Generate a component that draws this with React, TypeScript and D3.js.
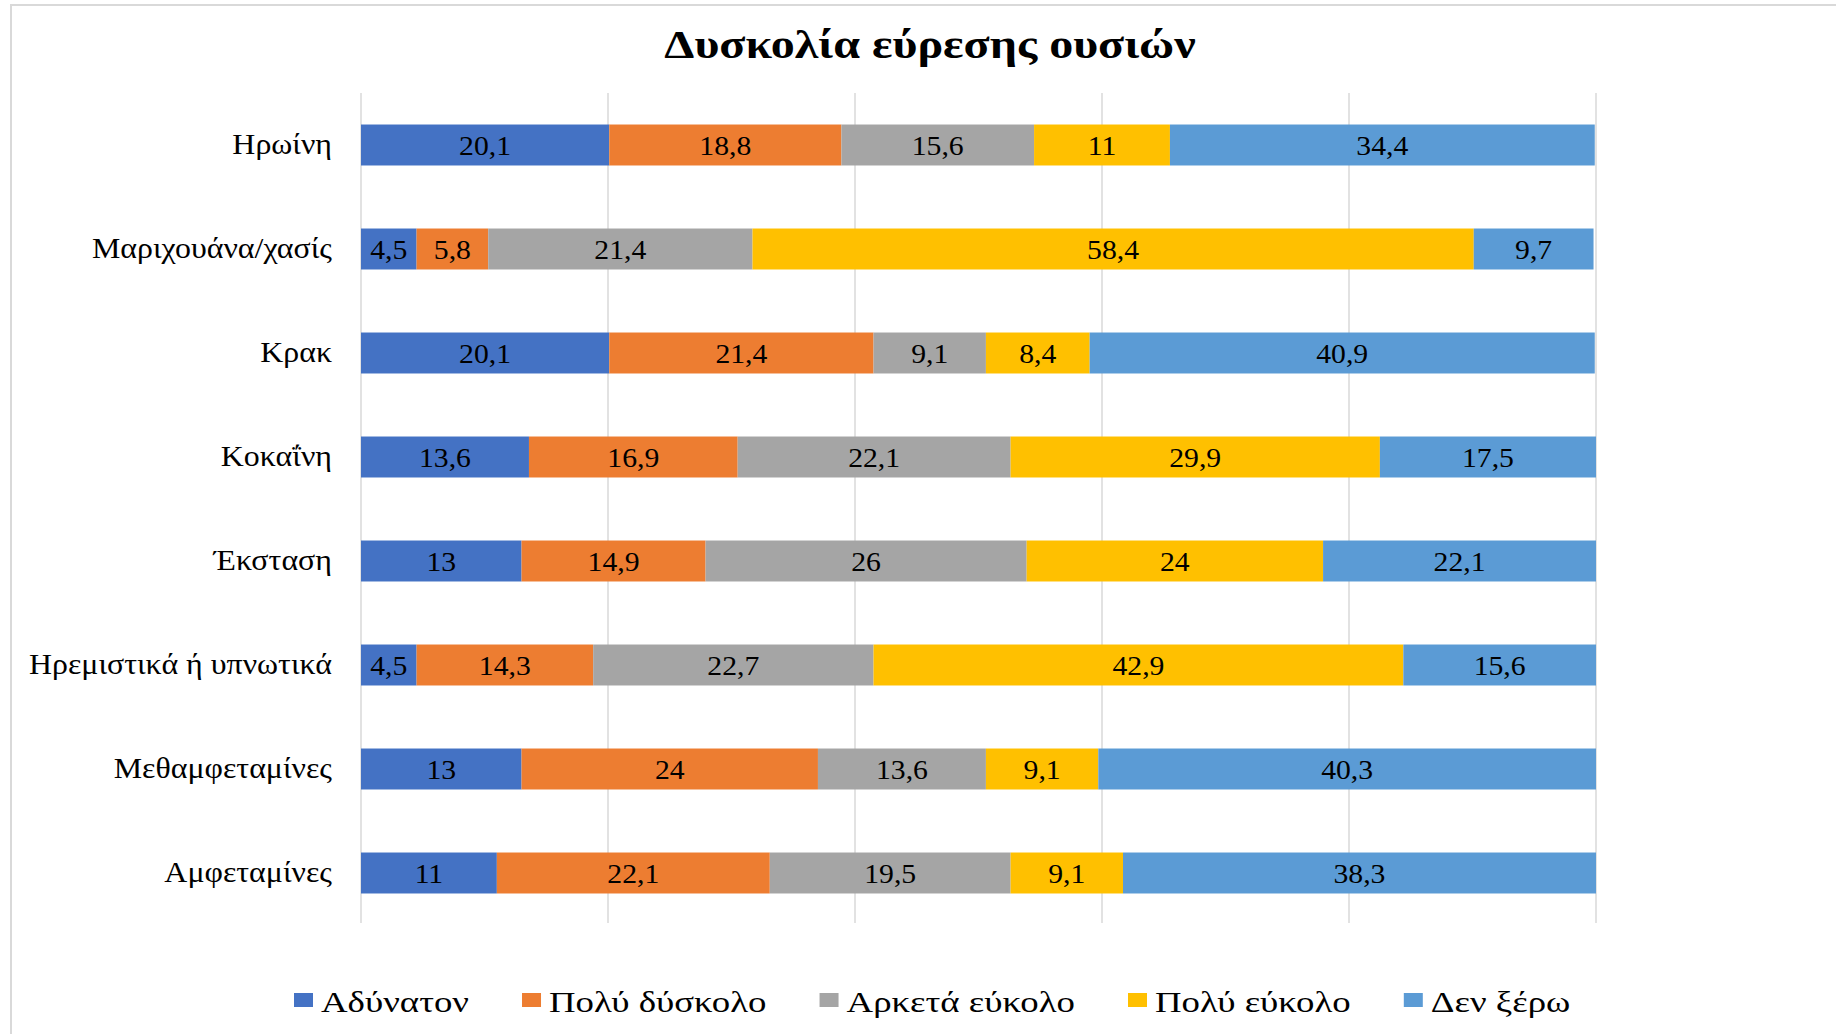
import { useEffect, useRef } from 'react';
import * as d3 from 'd3';

const categories = [
  'Ηρωίνη',
  'Μαριχουάνα/χασίς',
  'Κρακ',
  'Κοκαΐνη',
  'Έκσταση',
  'Ηρεμιστικά ή υπνωτικά',
  'Μεθαμφεταμίνες',
  'Αμφεταμίνες',
];
const seriesNames = ['Αδύνατον', 'Πολύ δύσκολο', 'Αρκετά εύκολο', 'Πολύ εύκολο', 'Δεν ξέρω'];
const adynaton = [20.1, 4.5, 20.1, 13.6, 13, 4.5, 13, 11];
const polyDyskolo = [18.8, 5.8, 21.4, 16.9, 14.9, 14.3, 24, 22.1];
const arketaEukolo = [15.6, 21.4, 9.1, 22.1, 26, 22.7, 13.6, 19.5];
const polyEukolo = [11, 58.4, 8.4, 29.9, 24, 42.9, 9.1, 9.1];
const denXero = [34.4, 9.7, 40.9, 17.5, 22.1, 15.6, 40.3, 38.3];
const xTicks = [0, 20, 40, 60, 80, 100];

const colors = ['#4472C4', '#ED7D31', '#A5A5A5', '#FFC000', '#5B9BD5'];
const FONT = '"Liberation Serif", "Times New Roman", serif';

// the source picture is a bit wider than tall, so the text looks stretched sideways
function stretch(sel: any, factor: number) {
  sel.each(function (this: SVGTextElement) {
    const len = this.getComputedTextLength();
    d3.select(this)
      .attr('textLength', len * factor)
      .attr('lengthAdjust', 'spacingAndGlyphs');
  });
}

function App() {
  const svgRef = useRef<SVGSVGElement>(null);

  useEffect(() => {
    const W = 1836;
    const H = 1034;
    const svg = d3.select(svgRef.current);
    svg.selectAll('*').remove();
    svg.attr('width', W).attr('height', H).attr('viewBox', `0 0 ${W} ${H}`);

    const allSeries = [adynaton, polyDyskolo, arketaEukolo, polyEukolo, denXero];
    const rows = categories.map((c, i) => {
      const row: any = { label: c };
      seriesNames.forEach((s, j) => (row[s] = allSeries[j][i]));
      return row;
    });
    const stacked = d3.stack().keys(seriesNames)(rows);

    const x = d3.scaleLinear().domain([0, 100]).range([361, 1596]);
    const y = d3
      .scaleBand()
      .domain(categories)
      .range([93, 925])
      .paddingInner(0.606)
      .paddingOuter(0.303);

    // chart frame (cut off on top/right)
    svg
      .append('path')
      .attr('d', `M11,${H} V5 H${W}`)
      .attr('fill', 'none')
      .attr('stroke', '#d9d9d9')
      .attr('stroke-width', 2);

    // title
    const title = svg
      .append('text')
      .attr('x', 930)
      .attr('y', 58)
      .attr('text-anchor', 'middle')
      .attr('font-family', FONT)
      .attr('font-weight', 'bold')
      .attr('font-size', 40)
      .text('Δυσκολία εύρεσης ουσιών');
    stretch(title, 1.2);

    // gridlines
    svg
      .append('g')
      .selectAll('line')
      .data(xTicks)
      .enter()
      .append('line')
      .attr('x1', d => x(d))
      .attr('x2', d => x(d))
      .attr('y1', 93)
      .attr('y2', 923)
      .attr('stroke', '#d9d9d9')
      .attr('stroke-width', 1.5);

    // bars
    const layer = svg
      .selectAll('.layer')
      .data(stacked)
      .enter()
      .append('g')
      .attr('class', 'layer')
      .attr('fill', (d, i) => colors[i]);

    layer
      .selectAll('rect')
      .data(d => d)
      .enter()
      .append('rect')
      .attr('x', d => x(d[0]))
      .attr('y', d => y((d.data as any).label)!)
      .attr('width', d => x(d[1]) - x(d[0]))
      .attr('height', y.bandwidth());

    // value labels
    const values = layer
      .selectAll('text')
      .data(d => d)
      .enter()
      .append('text')
      .attr('x', d => (x(d[0]) + x(d[1])) / 2)
      .attr('y', d => y((d.data as any).label)! + y.bandwidth() / 2)
      .attr('dy', '0.37em')
      .attr('text-anchor', 'middle')
      .attr('fill', '#000')
      .attr('font-family', FONT)
      .attr('font-size', 27)
      .text(d => String(+(d[1] - d[0]).toFixed(1)).replace('.', ','));
    stretch(values, 1.1);

    // category labels
    const cats = svg
      .append('g')
      .selectAll('text')
      .data(categories)
      .enter()
      .append('text')
      .attr('x', 332)
      .attr('y', d => y(d)! + y.bandwidth() / 2)
      .attr('dy', '0.32em')
      .attr('text-anchor', 'end')
      .attr('font-family', FONT)
      .attr('font-size', 29)
      .text(d => d);
    stretch(cats, 1.1);

    // legend
    const legend = svg.append('g');
    let cx = 294;
    seriesNames.forEach((name, i) => {
      legend
        .append('rect')
        .attr('x', cx)
        .attr('y', 993)
        .attr('width', 19)
        .attr('height', 14)
        .attr('fill', colors[i]);
      const t = legend
        .append('text')
        .attr('x', cx + 27)
        .attr('y', 1012)
        .attr('font-family', FONT)
        .attr('font-size', 29)
        .text(name);
      stretch(t, 1.27);
      const w = +t.attr('textLength');
      cx += 27 + w + 53;
    });
  }, []);

  return (
    <svg
      ref={svgRef}
      style={{ position: 'absolute', left: 0, top: 0, background: '#fff' }}
    />
  );
}

export default App;
